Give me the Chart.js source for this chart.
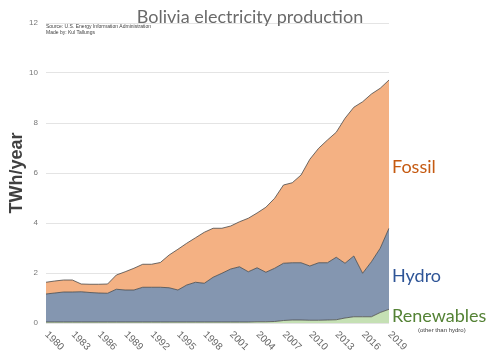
<!DOCTYPE html>
<html>
<head>
<meta charset="utf-8">
<script src="https://cdn.jsdelivr.net/npm/chart.js@4.4.1/dist/chart.umd.min.js"></script>
<style>
html,body{margin:0;padding:0;background:#fff;}
#wrap{width:500px;height:356px;position:relative;}
</style>
</head>
<body>
<div id="wrap"><canvas id="c" width="500" height="356"></canvas></div>
<script>
const years = [];
for (let y = 1980; y <= 2019; y++) years.push(String(y));

const renewables = [0.04,0.04,0.04,0.04,0.04,0.04,0.04,0.04,0.04,0.04,
  0.04,0.04,0.04,0.04,0.04,0.04,0.04,0.04,0.04,0.04,
  0.04,0.04,0.04,0.04,0.05,0.05,0.06,0.10,0.12,0.12,
  0.11,0.11,0.12,0.13,0.20,0.25,0.25,0.25,0.42,0.55];
const hydro = [1.12,1.16,1.20,1.20,1.21,1.18,1.16,1.15,1.31,1.28,
  1.28,1.39,1.39,1.39,1.37,1.28,1.48,1.59,1.55,1.79,
  1.95,2.12,2.21,2.01,2.16,1.98,2.13,2.29,2.29,2.29,
  2.17,2.30,2.29,2.50,2.19,2.43,1.74,2.20,2.57,3.24];
const fossil = [0.47,0.48,0.48,0.48,0.31,0.33,0.35,0.37,0.57,0.73,
  0.87,0.92,0.92,0.99,1.31,1.63,1.67,1.78,2.04,1.96,
  1.80,1.72,1.80,2.14,2.19,2.60,2.80,3.13,3.20,3.51,
  4.27,4.58,4.91,5.00,5.80,5.95,6.86,6.71,6.40,5.93];
const yTicks = [0,2,4,6,8,10,12];
const tickEvery = 3;

const labelsPlugin = {
  id: 'labels',
  afterDraw(chart) {
    const ctx = chart.ctx;
    const xs = chart.scales.x;
    const area = chart.chartArea;
    ctx.save();
    // x tick labels rotated clockwise
    ctx.fillStyle = '#666666';
    ctx.font = '10px "Liberation Sans", Arial, sans-serif';
    ctx.textAlign = 'left';
    ctx.textBaseline = 'middle';
    years.forEach((y, i) => {
      if ((i % tickEvery) !== 0) return;
      const x = xs.getPixelForValue(i);
      ctx.save();
      ctx.translate(x + 0.5, area.bottom + 10);
      ctx.rotate(Math.PI / 4);
      ctx.fillText(y, 0, 0);
      ctx.restore();
    });
    // title
    ctx.fillStyle = '#6a6a6a';
    ctx.font = '18px Lato, "Open Sans", sans-serif';
    ctx.textAlign = 'center';
    ctx.textBaseline = 'alphabetic';
    ctx.fillText('Bolivia electricity production', 250, 23);
    // source
    ctx.fillStyle = '#404040';
    ctx.font = '5px "Liberation Sans", Arial, sans-serif';
    ctx.textAlign = 'left';
    ctx.fillText('Source: U.S. Energy Information Administration', 46, 28);
    ctx.fillText('Made by: Kul Tallungs', 46, 34);
    // series labels
    const lx = area.right + 3;
    ctx.font = '18px Lato, "Open Sans", sans-serif';
    ctx.fillStyle = '#C55A11';
    ctx.fillText('Fossil', lx, 173);
    ctx.fillStyle = '#2F5597';
    ctx.fillText('Hydro', lx, 282);
    ctx.fillStyle = '#548235';
    ctx.fillText('Renewables', lx, 322);
    ctx.fillStyle = '#404040';
    ctx.font = '6px "Liberation Sans", Arial, sans-serif';
    ctx.fillText('(other than hydro)', lx + 26, 332);
    ctx.restore();
  }
};

new Chart(document.getElementById('c'), {
  type: 'line',
  data: {
    labels: years,
    datasets: [
      { label: 'Renewables', data: renewables, fill: 'origin', backgroundColor: '#C5E0B4', borderColor: '#4a4a4a', borderWidth: 0.8, pointRadius: 0, tension: 0 },
      { label: 'Hydro', data: hydro, fill: '-1', backgroundColor: '#8496B0', borderColor: '#4a4a4a', borderWidth: 0.8, pointRadius: 0, tension: 0 },
      { label: 'Fossil', data: fossil, fill: '-1', backgroundColor: '#F4B183', borderColor: '#4a4a4a', borderWidth: 0.8, pointRadius: 0, tension: 0 }
    ]
  },
  options: {
    responsive: false,
    animation: false,
    layout: { padding: { left: 0, right: 111, top: 23, bottom: 0 } },
    plugins: { legend: { display: false }, tooltip: { enabled: false }, title: { display: false } },
    scales: {
      x: {
        type: 'category',
        offset: false,
        grid: { display: false },
        border: { display: false },
        ticks: { display: false },
        afterFit(s) { s.height = 33; }
      },
      y: {
        stacked: true,
        min: 0, max: 12,
        afterBuildTicks(s) { s.ticks = yTicks.map(v => ({ value: v })); },
        ticks: { color: '#777777', font: { size: 8, family: '"Liberation Sans", Arial, sans-serif' }, padding: 8 },
        grid: { color: '#e4e4e4', drawTicks: false },
        border: { display: false },
        title: { display: true, text: 'TWh/year', color: '#404040', font: { size: 18, weight: 'bold', family: '"Liberation Sans", Arial, sans-serif' }, padding: { top: 6, bottom: 0 } },
        afterFit(s) { s.width = 46; }
      }
    }
  },
  plugins: [labelsPlugin]
});
</script>
</body>
</html>
